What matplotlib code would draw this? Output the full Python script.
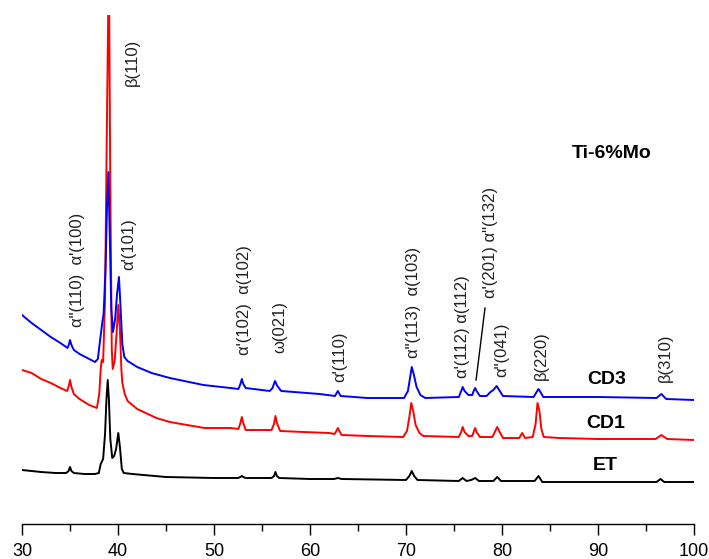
import matplotlib
matplotlib.use('Agg')
import matplotlib.pyplot as plt
from matplotlib.ticker import MultipleLocator

plt.rcParams['font.family'] = ['Liberation Sans', 'DejaVu Sans']

# 2-theta positions and intensities (arbitrary units)
et_2theta = [30, 31, 32, 33.5, 34.6, 34.85, 35.0, 35.15, 35.4, 36.5, 37.6, 38.0, 38.2, 38.3,
             38.45, 38.65, 38.8, 38.93, 39.05, 39.2, 39.4, 39.6, 39.8, 40.03, 40.2, 40.4,
             40.6, 41.5, 45, 50, 52.5, 52.75, 52.9, 53.05, 53.3, 56.0, 56.25, 56.4, 56.55,
             56.8, 60, 62.5, 62.9, 63.3, 70.0, 70.35, 70.6, 70.85, 71.2, 75.5, 75.9, 76.3,
             76.8, 77.2, 77.6, 79.1, 79.5, 79.9, 83.4, 83.8, 84.2, 96.1, 96.5, 96.9, 100]
et_int = [49, 48, 47, 46, 46, 48, 52, 48, 46, 45, 45, 46, 55, 57,
          60, 85, 120, 139, 120, 80, 61, 63, 70, 86, 72, 50,
          46, 45, 42, 41, 41, 42, 43, 42, 41, 41, 43, 47, 43,
          41, 40, 40, 41, 40, 39, 43, 48, 43, 39, 38, 41, 38,
          39, 41, 38, 38, 42, 38, 38, 43, 37, 37, 40, 37, 37]

cd1_2theta = [30, 31, 32, 33, 34, 34.7, 34.9, 35.0, 35.15, 35.4, 36, 37, 37.8, 38.05, 38.2,
              38.3, 38.45, 38.65, 38.85, 39.05, 39.2, 39.35, 39.45, 39.65, 39.85, 40.03,
              40.2, 40.35, 40.45, 40.7, 41, 42, 44, 45.4, 49, 51.7, 52.55, 52.75, 52.9,
              53.05, 53.3, 56.0, 56.25, 56.4, 56.55, 56.9, 59.3, 62, 62.55, 62.75, 62.9,
              63.05, 63.3, 66, 69.7, 70.1, 70.35, 70.55, 70.75, 71.0, 71.4, 71.8, 75.5,
              75.75, 75.9, 76.1, 76.5, 76.9, 77.05, 77.2, 77.35, 77.7, 79.0, 79.3, 79.5,
              79.7, 80.1, 81.8, 82.1, 82.4, 83.2, 83.5, 83.7, 83.9, 84.1, 84.35, 86, 90,
              96.0, 96.6, 97.2, 100]
cd1_int = [149, 146, 140, 136, 131, 128, 134, 139, 132, 125, 120, 114, 111, 125, 150,
           159, 157, 220, 400, 560, 330, 170, 150, 158, 185, 214,
           190, 150, 136, 125, 118, 110, 101, 97, 91, 91, 90, 96, 102,
           96, 89, 89, 95, 103, 96, 88, 87, 86, 85, 88, 91,
           88, 84, 83, 82, 88, 102, 116, 108, 94, 86, 83, 82,
           87, 92, 87, 83, 83, 87, 91, 87, 82, 82, 88, 92,
           88, 81, 81, 86, 81, 82, 95, 116, 108, 90, 82, 81, 80,
           80, 84, 80, 79]

cd3_2theta = [30, 31, 32, 33, 34, 34.75, 34.9, 35.0, 35.15, 35.4, 36, 37, 37.6, 37.9, 38.15,
              38.37, 38.5, 38.7, 38.85, 39.0, 39.15, 39.3, 39.48, 39.7, 39.9, 40.1, 40.25,
              40.45, 40.66, 41, 42, 43.5, 45.4, 48.9, 51.7, 52.55, 52.75, 52.9, 53.05, 53.3,
              55.8, 56.1, 56.35, 56.6, 57, 61, 62.6, 62.9, 63.2, 66, 69.8, 70.2, 70.45,
              70.6, 70.8, 71.1, 71.5, 72, 75.5, 75.75, 75.9, 76.1, 76.5, 76.9, 77.05, 77.2,
              77.35, 77.7, 78.4, 78.8, 79.1, 79.45, 79.7, 80.1, 83.3, 83.6, 83.8, 84.0,
              84.3, 90, 96.1, 96.6, 97.1, 100]
cd3_int = [204, 196, 189, 182, 176, 171, 175, 179, 174, 169, 165, 160, 157, 160, 180,
           197, 205, 250, 310, 347, 280, 210, 187, 200, 225, 242, 215,
           175, 162, 158, 152, 146, 141, 134, 131, 130, 135, 140, 135, 131,
           128, 131, 138, 133, 128, 125, 123, 128, 123, 121, 121, 128, 143,
           152, 145, 132, 124, 121, 122, 128, 132, 128, 124, 124, 128, 131,
           128, 123, 123, 127, 129, 133, 129, 123, 122, 127, 130, 127,
           122, 122, 121, 125, 120, 119]

# peak labels: text, 2-theta, bottom of text
peak_labels = ["β(110)", "α\"(110)  α'(100)", "α'(101)", "α'(102)  α(102)", "ω(021)",
               "α'(110)", "α\"(113)  α(103)", "α'(112) α(112)", "α'(201) α\"(132)",
               "α\"(041)", "β(220)", "β(310)"]
label_x = [41.5, 35.73, 41.15, 53.2, 56.9, 63.1, 70.8, 75.9, 78.75, 80.0, 84.06, 96.98]
label_y = [433, 192, 249, 164, 166, 137, 161, 141, 221, 142, 139, 137]

sample_names = ["CD3", "CD1", "ET"]
sample_x = [90.94, 90.83, 90.73]
sample_y = [139, 96, 54]

fig = plt.figure(figsize=(7.09, 5.59), dpi=100)
ax = fig.add_axes([22 / 709, 35 / 559, 672 / 709, 509 / 559])

ax.plot(et_2theta, et_int, color='black', lw=1.4)
ax.plot(cd1_2theta, cd1_int, color='#ff0000', lw=1.4)
ax.plot(cd3_2theta, cd3_int, color='#0000ff', lw=1.4)

for txt, x, y in zip(peak_labels, label_x, label_y):
    ax.text(x, y, txt, rotation=90, ha='center', va='bottom', fontsize=12, color='#222222')

# leader line for the alpha'(201) label
ax.plot([77.3, 78.23], [139, 211], color='black', lw=1.0)

for txt, x, y in zip(sample_names, sample_x, sample_y):
    ax.text(x, y, txt, ha='center', va='center', fontsize=14, fontweight='bold')
ax.text(91.46, 366, "Ti-6%Mo", ha='center', va='center', fontsize=14, fontweight='bold')

ax.set_xlim(30, 100)
ax.set_ylim(-5, 504)
for s in ['top', 'right', 'left']:
    ax.spines[s].set_visible(False)
ax.spines['bottom'].set_linewidth(1.0)
ax.set_yticks([])
ax.xaxis.set_major_locator(MultipleLocator(10))
ax.xaxis.set_minor_locator(MultipleLocator(5))
ax.tick_params(axis='x', which='major', length=8, width=1.0, labelsize=13, pad=6)
ax.tick_params(axis='x', which='minor', length=5, width=1.0)

fig.savefig('out.png', dpi=100)
